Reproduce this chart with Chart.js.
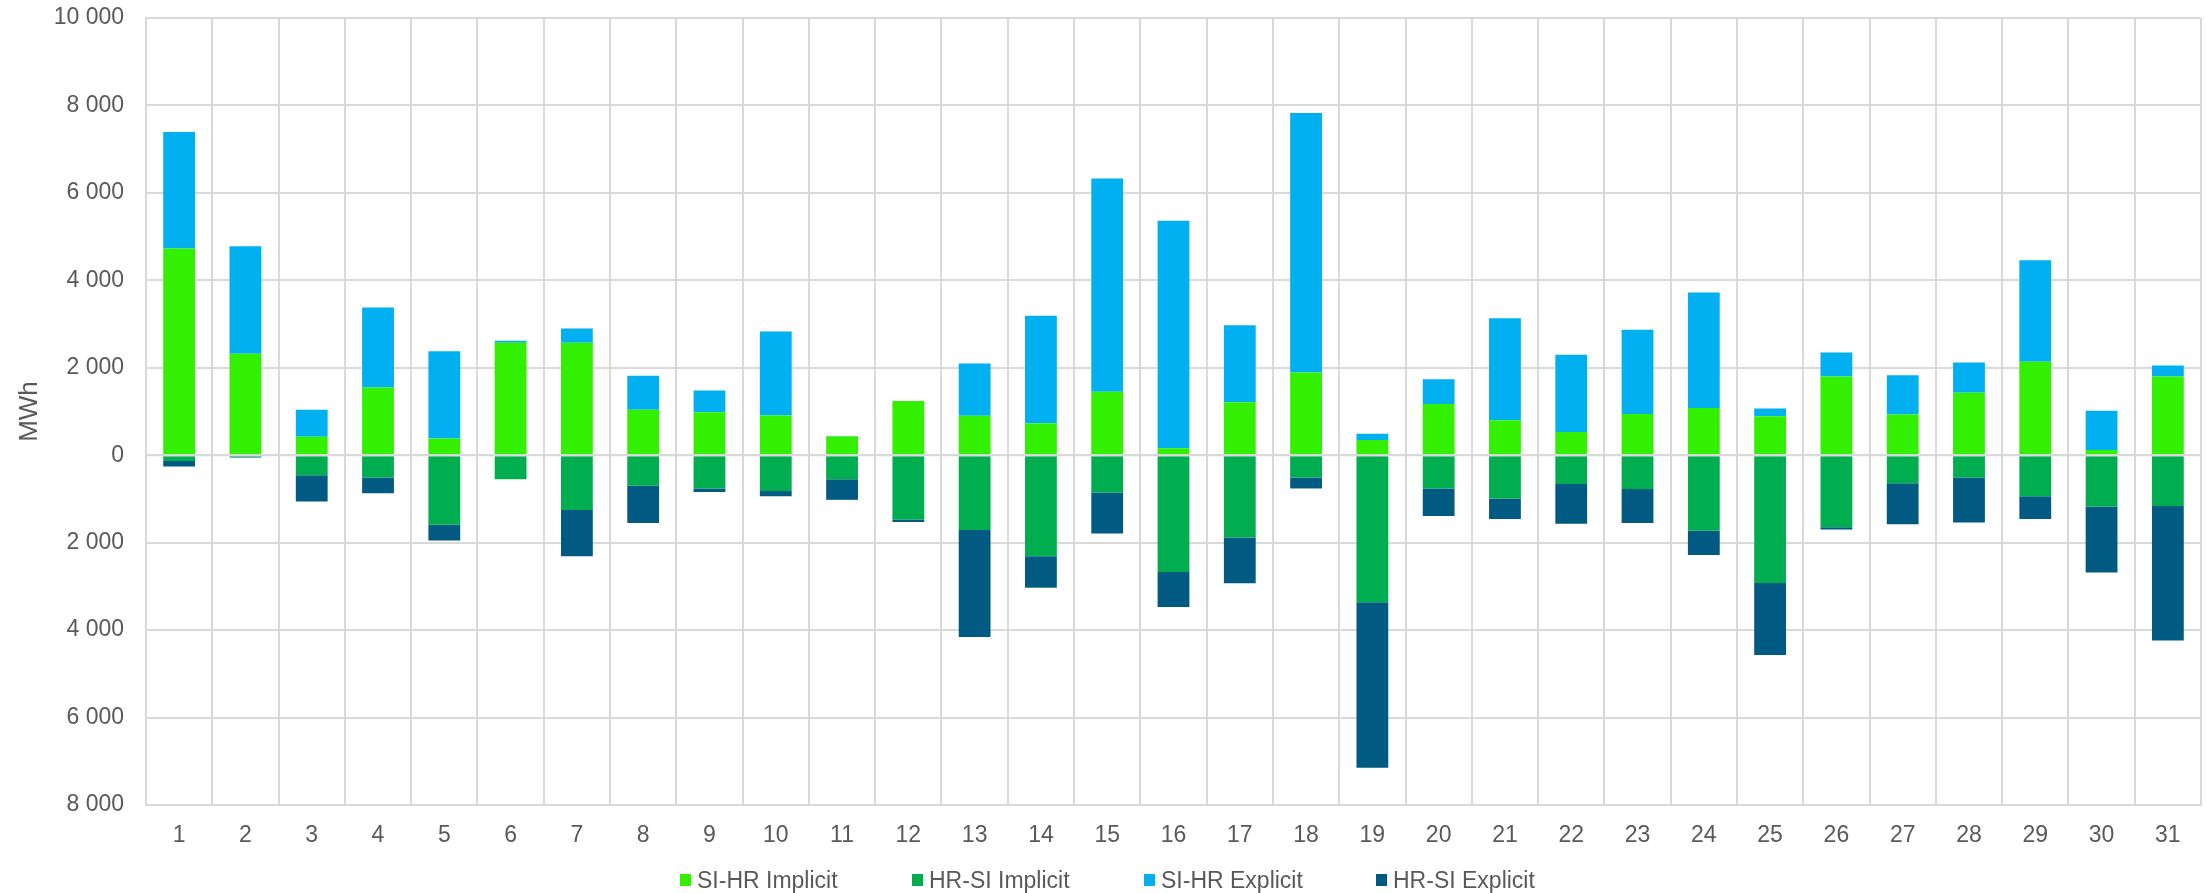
<!DOCTYPE html>
<html>
<head>
<meta charset="utf-8">
<script src="https://cdn.jsdelivr.net/npm/chart.js@4/dist/chart.umd.min.js"></script>
<style>
    body { margin: 0; background: #fff; }
    #wrap { position: relative; width: 2206px; height: 893px; }
    #legend {
        position: absolute; left: 680px; top: 866px;
        display: flex; font-family: 'Liberation Sans', Arial, sans-serif;
        font-size: 23px; color: #595959;
    }
    .item { width: 232px; display: flex; align-items: center; height: 28px; }
    .box { width: 11px; height: 12px; margin-right: 6px; }
</style>
</head>
<body>
<div id="wrap">
    <canvas id="flowChart" width="2206" height="893"></canvas>
    <div id="legend"></div>
</div>
<script>
// Daily values (MWh)
const days = ['1', '2', '3', '4', '5', '6', '7', '8', '9', '10', '11', '12', '13', '14', '15', '16',
    '17', '18', '19', '20', '21', '22', '23', '24', '25', '26', '27', '28', '29', '30', '31'];

const siHrImplicit = [4730, 2320, 420, 1550, 380, 2570, 2570, 1040, 980, 910, 430, 1240, 900, 730, 1450, 160,
    1210, 1890, 350, 1170, 800, 530, 940, 1080, 890, 1800, 930, 1430, 2140, 120, 1800];

const hrSiImplicit = [-130, -40, -460, -510, -1590, -550, -1250, -700, -760, -820, -550, -1470, -1710, -2310, -850, -2670,
    -1880, -510, -3360, -760, -990, -660, -770, -1720, -2920, -1650, -640, -510, -940, -1170, -1160];

const siHrExplicit = [2660, 2460, 620, 1830, 2000, 50, 330, 780, 500, 1920, 10, 0, 1200, 2460, 4880, 5200,
    1760, 5940, 140, 570, 2330, 1770, 1930, 2640, 180, 550, 900, 690, 2320, 900, 250];

const hrSiExplicit = [-130, -10, -600, -360, -360, 0, -1060, -850, -80, -120, -470, -60, -2450, -720, -940, -800,
    -1050, -250, -3790, -630, -470, -910, -780, -560, -1650, -50, -940, -1030, -520, -1510, -3080];

const yTicks = [-8000, -6000, -4000, -2000, 0, 2000, 4000, 6000, 8000, 10000];

const series = [
    { label: 'SI-HR Implicit', data: siHrImplicit, color: '#33f000' },
    { label: 'HR-SI Implicit', data: hrSiImplicit, color: '#00ae50' },
    { label: 'SI-HR Explicit', data: siHrExplicit, color: '#00b0f0' },
    { label: 'HR-SI Explicit', data: hrSiExplicit, color: '#005a82' }
];

const textColor = '#595959';
const gridColor = '#d9d9d9';
const fontFamily = "'Liberation Sans', Arial, sans-serif";

// "10 000" style, negatives shown without the minus sign
function formatTick(v) {
    return String(Math.abs(v)).replace(/\B(?=(\d{3})+(?!\d))/g, ' ');
}

// Zero line is drawn on top of the bars in the original
const zeroLine = {
    id: 'zeroLine',
    afterDatasetsDraw(chart) {
        const y = chart.scales.y.getPixelForValue(0);
        const ctx = chart.ctx;
        ctx.save();
        ctx.strokeStyle = gridColor;
        ctx.lineWidth = 2;
        ctx.beginPath();
        ctx.moveTo(chart.chartArea.left, y);
        ctx.lineTo(chart.chartArea.right, y);
        ctx.stroke();
        ctx.restore();
    }
};

function initChart() {
    const ctx = document.getElementById('flowChart').getContext('2d');

    Chart.defaults.color = textColor;
    Chart.defaults.font.family = fontFamily;

    new Chart(ctx, {
        type: 'bar',
        data: {
            labels: days,
            datasets: series.map(s => ({
                label: s.label,
                data: s.data,
                backgroundColor: s.color,
                borderWidth: 0,
                barPercentage: 0.48,
                categoryPercentage: 1
            }))
        },
        options: {
            responsive: false,
            animation: false,
            layout: { padding: { left: 0, right: 5, top: 18, bottom: 38 } },
            plugins: {
                legend: { display: false },
                tooltip: { enabled: false }
            },
            scales: {
                x: {
                    stacked: true,
                    grid: { color: gridColor, lineWidth: 2, drawTicks: false },
                    border: { color: gridColor, width: 2 },
                    ticks: { font: { size: 23 }, padding: 17, color: textColor },
                    afterFit(scale) { scale.height = 50; }
                },
                y: {
                    stacked: true,
                    min: -8000,
                    max: 10000,
                    afterBuildTicks(scale) { scale.ticks = yTicks.map(v => ({ value: v })); },
                    grid: { color: gridColor, lineWidth: 2, drawTicks: false },
                    border: { color: gridColor, width: 2 },
                    ticks: { font: { size: 23 }, padding: 22, color: textColor, callback: formatTick },
                    title: {
                        display: true,
                        text: 'MWh',
                        color: textColor,
                        font: { size: 26 },
                        padding: { top: 14, bottom: 0 }
                    },
                    afterFit(scale) {
                        scale.width = 146;
                        scale.paddingTop = 0;
                        scale.paddingBottom = 0;
                    }
                }
            }
        },
        plugins: [zeroLine]
    });

    // Legend row below the chart
    const legend = document.getElementById('legend');
    series.forEach(s => {
        const item = document.createElement('div');
        item.className = 'item';
        const box = document.createElement('span');
        box.className = 'box';
        box.style.background = s.color;
        item.appendChild(box);
        item.appendChild(document.createTextNode(s.label));
        legend.appendChild(item);
    });
}

document.addEventListener('DOMContentLoaded', initChart);
</script>
</body>
</html>
